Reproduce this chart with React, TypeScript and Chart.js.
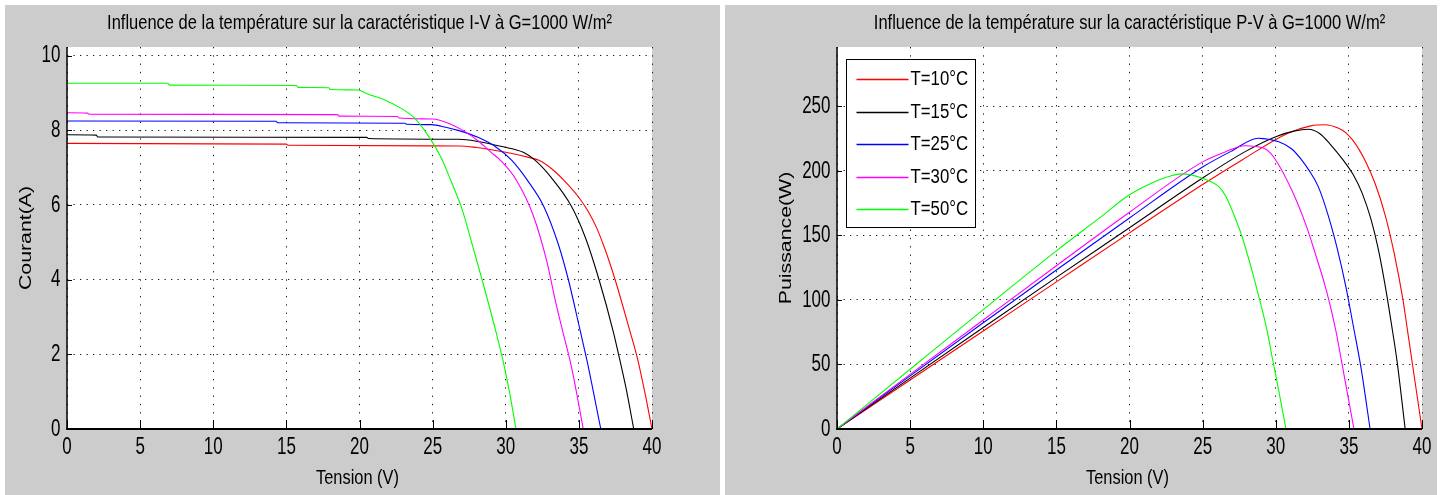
import React, { useEffect, useRef } from 'react';
import { Chart, registerables } from 'chart.js';

Chart.register(...registerables);

// ---------- data ----------
const SERIES_LABELS = ['T=10°C', 'T=15°C', 'T=25°C', 'T=30°C', 'T=50°C'];
const SERIES_COLORS = ['#ff0000', '#000000', '#0000ff', '#ff00ff', '#00ff00'];

const V_TICKS = [0, 5, 10, 15, 20, 25, 30, 35, 40];
const I_TICKS = [0, 2, 4, 6, 8, 10];
const P_TICKS = [0, 50, 100, 150, 200, 250];

// I-V characteristic (Tension V, Courant A)
const IV_V_10 = [0, 15.0, 15.1, 26.8, 28.0, 28.7, 30.0, 31.5, 32.3, 33.2, 34.0, 35.0, 35.6, 36.2, 36.8, 37.5, 38.0, 38.5, 39.0, 39.5, 40.0];
const IV_I_10 = [7.65, 7.63, 7.60, 7.58, 7.54, 7.50, 7.41, 7.28, 7.19, 6.95, 6.65, 6.2, 5.85, 5.4, 4.8, 3.97, 3.3, 2.61, 1.9, 1.0, 0];

const IV_V_15 = [0, 2.0, 2.1, 20.5, 20.6, 26.8, 28.1, 29.65, 31.2, 32.0, 33.1, 34.5, 35.45, 36.4, 37.35, 37.8, 38.3, 38.75];
const IV_I_15 = [7.88, 7.87, 7.82, 7.81, 7.78, 7.76, 7.70, 7.57, 7.41, 7.2, 6.74, 5.96, 5.12, 3.97, 2.61, 1.85, 0.95, 0];

const IV_V_25 = [0, 14.3, 14.4, 23.1, 23.2, 24.9, 25.9, 26.8, 28.1, 29.3, 30.4, 31.5, 32.6, 33.6, 34.3, 35.05, 35.6, 36.05, 36.5];
const IV_I_25 = [8.25, 8.24, 8.20, 8.19, 8.16, 8.15, 8.08, 7.99, 7.81, 7.56, 7.2, 6.65, 5.96, 4.94, 3.97, 2.7, 1.75, 0.88, 0];

const IV_V_30 = [0, 1.4, 1.5, 18.5, 18.6, 22.6, 22.7, 25.0, 26.2, 27.1, 28.1, 29.0, 29.65, 30.75, 31.85, 32.8, 33.4, 33.9, 34.5, 34.9, 35.3];
const IV_I_30 = [8.47, 8.46, 8.43, 8.42, 8.38, 8.37, 8.33, 8.30, 8.17, 7.99, 7.72, 7.41, 7.19, 6.65, 5.75, 4.5, 3.42, 2.61, 1.65, 0.85, 0];

const IV_V_50 = [0, 6.9, 7.0, 15.7, 15.8, 17.9, 18.0, 19.9, 20.5, 21.8, 22.7, 23.7, 24.6, 25.6, 26.3, 27.0, 27.7, 28.4, 29.3, 29.8, 30.25, 30.7];
const IV_I_50 = [9.26, 9.26, 9.21, 9.20, 9.15, 9.14, 9.09, 9.08, 8.98, 8.80, 8.62, 8.35, 7.91, 7.25, 6.6, 5.9, 4.95, 3.97, 2.65, 1.85, 1.0, 0];

// P-V characteristic (Tension V, Puissance W)
const PV_V_10 = [0, 5, 10, 15, 20, 25, 27.7, 30.8, 32.4, 33.35, 34.3, 34.8, 35.25, 35.7, 36.2, 36.8, 37.5, 38.1, 38.7, 39.0, 39.35, 40];
const PV_P_10 = [0, 38, 76, 114, 152, 189.5, 208.5, 229, 234.9, 235.7, 233, 229.5, 224, 216.5, 206, 190, 165, 136, 100, 77, 50, 0];

const PV_V_15 = [0, 5, 10, 15, 20, 25, 28, 30, 31.3, 32.2, 33.0, 33.7, 34.6, 35.3, 35.9, 36.5, 37.0, 37.5, 37.9, 38.3, 38.85];
const PV_P_15 = [0, 39.4, 78.6, 117.5, 156, 194.5, 215.5, 226.5, 231, 232.3, 229, 221, 208.5, 197, 183, 163, 140, 110, 82, 52, 0];

const PV_V_25 = [0, 5, 10, 15, 20, 25, 27, 28.8, 30.2, 31.1, 31.7, 32.3, 32.9, 33.6, 34.2, 34.8, 35.3, 35.85, 36.45];
const PV_P_25 = [0, 41.2, 82.3, 123.2, 163.5, 203, 215.5, 225.3, 222.5, 217, 209.5, 200, 188, 165, 140, 110, 80, 46, 0];

const PV_V_30 = [0, 5, 10, 15, 20, 25, 26.5, 27.9, 29.2, 29.9, 31.1, 32.1, 32.7, 33.4, 33.8, 34.1, 34.7, 35.35];
const PV_P_30 = [0, 42.3, 84.5, 126.5, 168, 207, 214.5, 219.5, 217.5, 210, 185, 157, 136, 110, 92, 76.7, 40, 0];

const PV_V_50 = [0, 5, 10, 15, 18, 20, 21.8, 22.8, 23.6, 24.8, 26.1, 26.6, 27.0, 27.7, 28.3, 28.9, 29.4, 29.75, 30.2, 30.7];
const PV_P_50 = [0, 46.3, 92.5, 138, 164, 181.5, 192, 196, 197.7, 195, 187.8, 180, 169.8, 149, 125.8, 100, 76.7, 56, 30, 0];

// ---------- helpers ----------
const FONT = '"Liberation Sans", Arial, "Noto Sans", sans-serif';
const BG = '#cccccc';

function drawText(ctx: any, s: string, x: number, y: number, size: number, sy: number,
  align: string, baseline: string, rotate = false) {
  ctx.save();
  ctx.translate(x, y);
  ctx.scale(1, sy);
  if (rotate) ctx.rotate(-Math.PI / 2);
  ctx.font = `${size}px ${FONT}`;
  ctx.textAlign = align;
  ctx.textBaseline = baseline;
  ctx.fillStyle = '#000';
  ctx.fillText(s, 0, 0);
  ctx.restore();
}

function seg(ctx: any, x1: number, y1: number, x2: number, y2: number) {
  ctx.beginPath();
  ctx.moveTo(x1, y1);
  ctx.lineTo(x2, y2);
  ctx.stroke();
}

type PanelCfg = {
  key: string;
  title: string;
  yLabel: string;
  yLabelOffset: number;
  yMax: number;
  yTicks: number[];
  series: number[][][];
  legend: boolean;
  padding: { left: number; right: number; top: number; bottom: number };
  width: number;
  height: number;
};

function makeDecor(cfg: PanelCfg) {
  return {
    id: 'decor_' + cfg.key,
    beforeDraw(chart: any) {
      const { ctx, width, height, chartArea: a } = chart;
      ctx.save();
      ctx.fillStyle = BG;
      ctx.fillRect(0, 0, width, height);
      ctx.fillStyle = '#ffffff';
      ctx.fillRect(a.left, a.top, a.right - a.left, a.bottom - a.top);
      ctx.restore();
    },
    afterDraw(chart: any) {
      const { ctx, chartArea: a, scales } = chart;
      const xs = scales.x;
      const ys = scales.y;
      ctx.save();
      ctx.strokeStyle = '#000';
      // axis lines (left + bottom only)
      ctx.lineWidth = 1.5;
      seg(ctx, a.left, a.top, a.left, a.bottom + 0.75);
      ctx.lineWidth = 2;
      seg(ctx, a.left - 0.75, a.bottom, a.right, a.bottom);
      // inside tick marks
      ctx.lineWidth = 1;
      xs.ticks.forEach((t: any) => {
        const px = Math.round(xs.getPixelForValue(t.value)) + 0.5;
        seg(ctx, px, a.bottom, px, a.bottom - 9);
      });
      ys.ticks.forEach((t: any) => {
        const py = Math.round(ys.getPixelForValue(t.value)) + 0.5;
        seg(ctx, a.left, py, a.left + 5, py);
      });
      ctx.restore();

      // tick labels
      xs.ticks.forEach((t: any) => {
        drawText(ctx, String(t.value), xs.getPixelForValue(t.value), a.bottom + 18, 17, 1.42, 'center', 'middle');
      });
      ys.ticks.forEach((t: any) => {
        drawText(ctx, String(t.value), a.left - 6.5, ys.getPixelForValue(t.value), 17, 1.42, 'right', 'middle');
      });

      const cx = (a.left + a.right) / 2;
      // title
      drawText(ctx, cfg.title, cx, 24, 16.5, 1.25, 'center', 'alphabetic');
      // x label
      drawText(ctx, 'Tension (V)', cx - 2, a.bottom + 49, 16.4, 1.28, 'center', 'middle');
      // y label
      drawText(ctx, cfg.yLabel, a.left - cfg.yLabelOffset, (a.top + a.bottom) / 2, 16.4, 1.3, 'center', 'middle', true);

      // legend
      if (cfg.legend) {
        const bx = a.left + 9.5;
        const by = a.top + 12.5;
        const bw = 129;
        const bh = 168;
        ctx.save();
        ctx.fillStyle = '#fff';
        ctx.fillRect(bx, by, bw, bh);
        ctx.strokeStyle = '#000';
        ctx.lineWidth = 1;
        ctx.strokeRect(bx, by, bw, bh);
        chart.data.datasets.forEach((ds: any, i: number) => {
          const ly = Math.round(a.top + 32 + i * 32.5) + 0.5;
          ctx.strokeStyle = ds.borderColor;
          ctx.lineWidth = 1.6;
          seg(ctx, bx + 10, ly, bx + 62, ly);
          drawText(ctx, ds.label, bx + 64, ly, 16.8, 1.25, 'left', 'middle');
        });
        ctx.restore();
      }
    },
  };
}

function Panel({ cfg, left }: { cfg: PanelCfg; left: number }) {
  const ref = useRef<HTMLCanvasElement | null>(null);
  useEffect(() => {
    const canvas = ref.current;
    if (!canvas) return;
    const datasets = cfg.series.map(([xs, ys], i) => ({
      label: SERIES_LABELS[i],
      data: xs.map((x, k) => ({ x, y: ys[k] })),
      borderColor: SERIES_COLORS[i],
      backgroundColor: SERIES_COLORS[i],
      borderWidth: 1.1,
      pointRadius: 0,
      cubicInterpolationMode: 'monotone',
      fill: false,
      order: SERIES_LABELS.length - i,
    }));
    const chart = new Chart(canvas, {
      type: 'line',
      data: { datasets },
      options: {
        responsive: false,
        animation: false,
        devicePixelRatio: 1,
        layout: { padding: cfg.padding },
        plugins: { legend: { display: false }, title: { display: false }, tooltip: { enabled: false } },
        scales: {
          x: {
            type: 'linear',
            min: 0,
            max: 40,
            afterBuildTicks: (s: any) => { s.ticks = V_TICKS.map((v) => ({ value: v })); },
            afterFit: (s: any) => { s.height = 0; },
            ticks: { display: false },
            grid: { color: '#1a1a1a', lineWidth: 1, drawTicks: false, borderDash: [1.3, 7] },
            border: { display: false, dash: [1.3, 7] },
          },
          y: {
            type: 'linear',
            min: 0,
            max: cfg.yMax,
            afterBuildTicks: (s: any) => { s.ticks = cfg.yTicks.map((v) => ({ value: v })); },
            afterFit: (s: any) => { s.width = 0; },
            ticks: { display: false },
            grid: { color: '#1a1a1a', lineWidth: 1, drawTicks: false, borderDash: [1.3, 5.2] },
            border: { display: false, dash: [1.3, 5.2] },
          },
        },
      } as any,
      plugins: [makeDecor(cfg)],
    });
    return () => chart.destroy();
  }, [cfg]);
  return (
    <canvas
      ref={ref}
      width={cfg.width}
      height={cfg.height}
      style={{ position: 'absolute', left, top: 5, width: cfg.width, height: cfg.height }}
    />
  );
}

const LEFT_CFG: PanelCfg = {
  key: 'iv',
  title: 'Influence de la température sur la caractéristique I-V à G=1000 W/m²',
  yLabel: 'Courant(A)',
  yLabelOffset: 40.5,
  yMax: 10.23,
  yTicks: I_TICKS,
  series: [[IV_V_10, IV_I_10], [IV_V_15, IV_I_15], [IV_V_25, IV_I_25], [IV_V_30, IV_I_30], [IV_V_50, IV_I_50]],
  legend: false,
  padding: { left: 62, right: 68, top: 42, bottom: 66 },
  width: 715,
  height: 490,
};

const RIGHT_CFG: PanelCfg = {
  key: 'pv',
  title: 'Influence de la température sur la caractéristique P-V à G=1000 W/m²',
  yLabel: 'Puissance(W)',
  yLabelOffset: 51,
  yMax: 296,
  yTicks: P_TICKS,
  series: [[PV_V_10, PV_P_10], [PV_V_15, PV_P_15], [PV_V_25, PV_P_25], [PV_V_30, PV_P_30], [PV_V_50, PV_P_50]],
  legend: true,
  padding: { left: 112, right: 15, top: 42, bottom: 66 },
  width: 712,
  height: 490,
};

export default function App() {
  return (
    <div style={{ position: 'fixed', left: 0, top: 0, width: 1443, height: 495, background: '#ffffff', overflow: 'hidden' }}>
      <Panel cfg={LEFT_CFG} left={5} />
      <Panel cfg={RIGHT_CFG} left={725} />
    </div>
  );
}
